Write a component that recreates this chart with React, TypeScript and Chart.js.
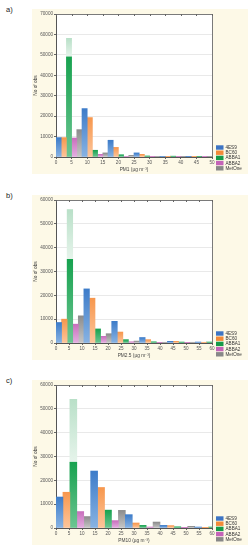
import React, { useEffect, useRef } from 'react';
import { Chart, registerables } from 'chart.js';
Chart.register(...registerables);

// ---------- data ----------
const seriesNames = ['4ES9', 'BC60', 'ABBA1', 'ABBA2', 'MetOne'];

// Panel a) PM1 (6 bins)
const pm1_4ES9 = [9500, 23700, 8200, 2000, 200, 100];
const pm1_BC60 = [9500, 19300, 4700, 1300, 150, 60];
const pm1_ABBA1 = [49000, 3300, 1100, 500, 400, 200];
const pm1_ABBA2 = [9300, 1300, 300, 100, 50, 50];
const pm1_MetOne = [13400, 2000, 800, 200, 100, 50];
const pm1_ABBA1_peak = 58100;

// Panel b) PM2.5
const pm25_4ES9 = [8600, 22700, 9100, 2300, 700, 400];
const pm25_BC60 = [10000, 18800, 4600, 1400, 700, 300];
const pm25_ABBA1 = [35100, 5900, 1400, 500, 400, 400];
const pm25_ABBA2 = [7900, 2800, 500, 100, 100];
const pm25_MetOne = [11400, 3900, 800, 300, 300];
const pm25_ABBA1_peak = 56000;

// Panel c) PM10
const pm10_4ES9 = [13000, 23900, 5600, 1100, 400];
const pm10_BC60 = [15000, 17000, 2100, 1000, 100];
const pm10_ABBA1 = [27600, 7500, 1100, 500, 400];
const pm10_ABBA2 = [6900, 3100, 400, 100];
const pm10_MetOne = [4800, 7400, 2500, 700];
const pm10_ABBA1_peak = 54000;

const xTicks1 = [0, 5, 10, 15, 20, 25, 30, 35, 40, 45, 50];
const xTicks2 = [0, 5, 10, 15, 20, 25, 30, 35, 40, 45, 50, 55, 60];

// ---------- styles ----------
const FONT = "'Liberation Sans', Arial, sans-serif";
const gradTop = ['#3d7cc9', '#f7974d', '#17a24f', '#c96fbd', '#8c8c8c'];
const gradBot = ['#88b3e3', '#fcc59b', '#6cc592', '#e3afe0', '#c6c6c6'];
const legendCol = ['#3d74c4', '#f28a3a', '#169a49', '#c463b8', '#888888'];

function barGradient(ctx: any, idx: number) {
  const chart = ctx.chart;
  const area = chart.chartArea;
  if (!area || ctx.type !== 'data') return gradTop[idx];
  const y = chart.scales.y;
  const v = ctx.raw.y;
  const top = y.getPixelForValue(v);
  const bot = y.getPixelForValue(0);
  if (!isFinite(top) || !isFinite(bot) || Math.abs(bot - top) < 0.5) return gradTop[idx];
  const g = chart.ctx.createLinearGradient(0, top, 0, bot);
  g.addColorStop(0, gradTop[idx]);
  g.addColorStop(1, gradBot[idx]);
  return g;
}

function peakGradient(ctx: any) {
  const chart = ctx.chart;
  const area = chart.chartArea;
  if (!area || ctx.type !== 'data') return '#cfe9d9';
  const y = chart.scales.y;
  const r = ctx.raw.y;
  const top = y.getPixelForValue(r[1]);
  const bot = y.getPixelForValue(r[0]);
  const g = chart.ctx.createLinearGradient(0, top, 0, bot);
  g.addColorStop(0, '#b9e0c8');
  g.addColorStop(1, '#e6f4eb');
  return g;
}

const framePlugin = {
  id: 'frameLegend',
  beforeDraw(chart: any) {
    const { ctx, chartArea: a } = chart;
    ctx.save();
    ctx.fillStyle = '#ffffff';
    ctx.fillRect(a.left, a.top, a.right - a.left, a.bottom - a.top);
    ctx.restore();
  },
  afterDraw(chart: any) {
    const { ctx, chartArea: a, scales } = chart;
    ctx.save();
    ctx.strokeStyle = '#7a7a7a';
    ctx.lineWidth = 1;
    ctx.beginPath();
    ctx.moveTo(a.left, a.top + 0.5);
    ctx.lineTo(a.right + 0.5, a.top + 0.5);
    ctx.lineTo(a.right + 0.5, a.bottom);
    ctx.stroke();
    // small inward ticks on the top border
    ctx.strokeStyle = '#666';
    scales.x.ticks.forEach((t: any) => {
      const px = Math.round(scales.x.getPixelForValue(t.value)) + 0.5;
      ctx.beginPath();
      ctx.moveTo(px, a.top);
      ctx.lineTo(px, a.top + 2);
      ctx.stroke();
    });
    // legend
    const x0 = 184;
    const y0 = 138.5;
    ctx.font = `4.6px ${FONT}`;
    ctx.textBaseline = 'middle';
    seriesNames.forEach((name, i) => {
      const yc = y0 + i * 5.2;
      ctx.fillStyle = legendCol[i];
      ctx.fillRect(x0, yc - 2.2, 7.5, 4.4);
      ctx.fillStyle = '#333';
      ctx.fillText(name, x0 + 9.5, yc + 0.3);
    });
    ctx.restore();
  },
};

type PanelProps = {
  label: string;
  top: number;
  series: number[][];
  peak: number;
  barW: number;
  xMax: number;
  yMax: number;
  xTicks: number[];
  xTitle: string;
};

function Panel(p: PanelProps) {
  const ref = useRef<HTMLCanvasElement>(null);
  useEffect(() => {
    if (!ref.current) return;
    const datasets: any[] = p.series.map((vals, s) => ({
      label: seriesNames[s],
      data: vals.map((v, b) => ({ x: (b * 5 + s + 0.5) * p.barW, y: v })),
      backgroundColor: (ctx: any) => barGradient(ctx, s),
      borderWidth: 0,
      grouped: false,
      barPercentage: 1,
      categoryPercentage: 1,
    }));
    datasets.push({
      label: 'ABBA1 peak',
      data: [{ x: (2 + 0.5) * p.barW, y: [p.series[2][0], p.peak] }],
      backgroundColor: peakGradient,
      borderWidth: 0,
      grouped: false,
      barPercentage: 1,
      categoryPercentage: 1,
    });
    const tickFont = { size: 4.6, family: FONT };
    const chart = new Chart(ref.current, {
      type: 'bar',
      data: { datasets },
      plugins: [framePlugin],
      options: {
        animation: false,
        responsive: false,
        devicePixelRatio: 1,
        layout: { padding: { left: 0, top: 5, right: 36, bottom: 0 } },
        plugins: { legend: { display: false }, tooltip: { enabled: false } },
        scales: {
          x: {
            type: 'linear',
            min: 0,
            max: p.xMax,
            offset: false,
            afterFit: (s: any) => { s.height = 17; },
            afterBuildTicks: (s: any) => { s.ticks = p.xTicks.map((v) => ({ value: v })); },
            grid: { display: true, drawOnChartArea: false, drawTicks: true, tickLength: 2, tickColor: '#666', offset: false },
            border: { display: true, color: '#555', width: 1 },
            ticks: { font: tickFont, color: '#555', padding: 0.5, maxRotation: 0, autoSkip: false },
            title: { display: true, text: p.xTitle, font: { size: 4.8, family: FONT }, color: '#444', padding: { top: 0, bottom: 1.5 } },
          },
          y: {
            type: 'linear',
            min: 0,
            max: p.yMax,
            afterFit: (s: any) => { s.width = 24; },
            ticks: { stepSize: 10000, font: tickFont, color: '#555', padding: 1, callback: (v: any) => String(v) },
            grid: { color: '#e9e9e9', tickColor: '#666', tickLength: 2, drawTicks: true },
            border: { display: true, color: '#555', width: 1 },
            title: { display: true, text: 'No of obs', font: { size: 4.8, family: FONT }, color: '#444', padding: { top: 0.5, bottom: 0 } },
          },
        },
      } as any,
    });
    return () => chart.destroy();
  }, []);
  return (
    <>
      <div
        style={{
          position: 'absolute', left: 6, top: p.top - 4, fontFamily: FONT, fontSize: 7.5, color: '#222', lineHeight: '9px',
        }}
      >
        {p.label}
      </div>
      <canvas
        ref={ref}
        width={216}
        height={165}
        style={{ position: 'absolute', left: 32, top: p.top, width: 216, height: 165, background: '#fdf9e7' }}
      />
    </>
  );
}

export default function App() {
  return (
    <div style={{ position: 'absolute', left: 0, top: 0, width: 248, height: 550, background: '#fff', overflow: 'hidden' }}>
      <Panel label="a)" top={9} series={[pm1_4ES9, pm1_BC60, pm1_ABBA1, pm1_ABBA2, pm1_MetOne]} peak={pm1_ABBA1_peak}
        barW={50 / 30} xMax={50} yMax={70000} xTicks={xTicks1} xTitle="PM1 (µg m⁻³)" />
      <Panel label="b)" top={195} series={[pm25_4ES9, pm25_BC60, pm25_ABBA1, pm25_ABBA2, pm25_MetOne]} peak={pm25_ABBA1_peak}
        barW={60 / 28} xMax={60} yMax={60000} xTicks={xTicks2} xTitle="PM2.5 (µg m⁻³)" />
      <Panel label="c)" top={380} series={[pm10_4ES9, pm10_BC60, pm10_ABBA1, pm10_ABBA2, pm10_MetOne]} peak={pm10_ABBA1_peak}
        barW={60 / 22.5} xMax={60} yMax={60000} xTicks={xTicks2} xTitle="PM10 (µg m⁻³)" />
    </div>
  );
}
